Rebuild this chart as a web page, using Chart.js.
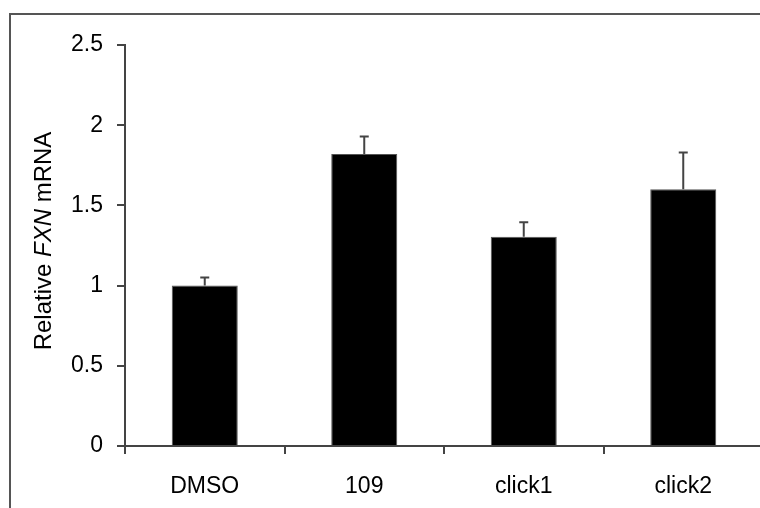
<!DOCTYPE html>
<html>
<head>
<meta charset="utf-8">
<script src="https://cdn.jsdelivr.net/npm/chart.js@4/dist/chart.umd.min.js"></script>
<style>
  html, body { margin: 0; padding: 0; background: #fff; overflow: hidden; }
  canvas { display: block; }
</style>
</head>
<body>
<canvas id="graph" width="780" height="508" role="img" aria-label="Relative FXN mRNA"></canvas>
<script>
const categories = ['DMSO', '109', 'click1', 'click2'];
const values = [1.0, 1.82, 1.305, 1.60];
const errors = [0.05, 0.11, 0.09, 0.23];
const yTicks = ['0', '0.5', '1', '1.5', '2', '2.5'];

const FONT = 'Arial, "Liberation Sans", sans-serif';

// frame around the figure + y title with italic gene name
const decor = {
  id: 'decor',
  beforeDraw(chart) {
    const ctx = chart.ctx;
    ctx.save();
    ctx.strokeStyle = '#555';
    ctx.lineWidth = 2;
    ctx.beginPath();
    ctx.moveTo(10, 600);
    ctx.lineTo(10, 14);
    ctx.lineTo(900, 14);
    ctx.stroke();
    ctx.restore();
  },
  afterDraw(chart) {
    const ctx = chart.ctx;
    const parts = [['Relative ', ''], ['FXN', 'italic '], [' mRNA', '']];
    ctx.save();
    ctx.fillStyle = '#000';
    ctx.textBaseline = 'middle';
    ctx.textAlign = 'left';
    let total = 0;
    parts.forEach(p => { ctx.font = p[1] + '24px ' + FONT; total += ctx.measureText(p[0]).width; });
    ctx.translate(44, 241);
    ctx.rotate(-Math.PI / 2);
    let x = -total / 2;
    parts.forEach(p => {
      ctx.font = p[1] + '24px ' + FONT;
      ctx.fillText(p[0], x, 0);
      x += ctx.measureText(p[0]).width;
    });
    ctx.restore();
  }
};

// upward error bars
const errorBars = {
  id: 'errorBars',
  afterDatasetsDraw(chart) {
    const ctx = chart.ctx;
    const yScale = chart.scales.y;
    const meta = chart.getDatasetMeta(0);
    ctx.save();
    ctx.strokeStyle = '#444';
    ctx.lineWidth = 2;
    meta.data.forEach((bar, i) => {
      const top = yScale.getPixelForValue(values[i] + errors[i]);
      const base = yScale.getPixelForValue(values[i]);
      ctx.beginPath();
      ctx.moveTo(bar.x, base);
      ctx.lineTo(bar.x, top);
      ctx.moveTo(bar.x - 4.5, top);
      ctx.lineTo(bar.x + 4.5, top);
      ctx.stroke();
    });
    ctx.restore();
  }
};

new Chart(document.getElementById('graph').getContext('2d'), {
  type: 'bar',
  data: {
    labels: categories,
    datasets: [{
      data: values,
      backgroundColor: '#000',
      borderColor: '#555',
      borderWidth: 1,
      categoryPercentage: 1,
      barPercentage: 0.414
    }]
  },
  options: {
    responsive: false,
    animation: false,
    devicePixelRatio: 1,
    layout: { padding: { left: 0, top: 45, right: 17, bottom: 0 } },
    plugins: { legend: { display: false }, tooltip: { enabled: false } },
    scales: {
      x: {
        grid: { drawOnChartArea: false, drawTicks: true, tickLength: 8, color: '#444', lineWidth: 2 },
        border: { display: true, color: '#444', width: 2 },
        ticks: { color: '#000', font: { family: FONT, size: 23 }, padding: 19, maxRotation: 0 },
        afterFit(scale) { scale.height = 62; }
      },
      y: {
        min: 0,
        max: 2.5,
        ticks: {
          stepSize: 0.5,
          color: '#000',
          font: { family: FONT, size: 23 },
          padding: 14,
          callback: (v, i) => yTicks[i]
        },
        grid: { drawOnChartArea: false, drawTicks: true, tickLength: 8, color: '#444', lineWidth: 2 },
        border: { display: true, color: '#444', width: 2 },
        afterFit(scale) { scale.width = 125; }
      }
    }
  },
  plugins: [decor, errorBars]
});
</script>
</body>
</html>
